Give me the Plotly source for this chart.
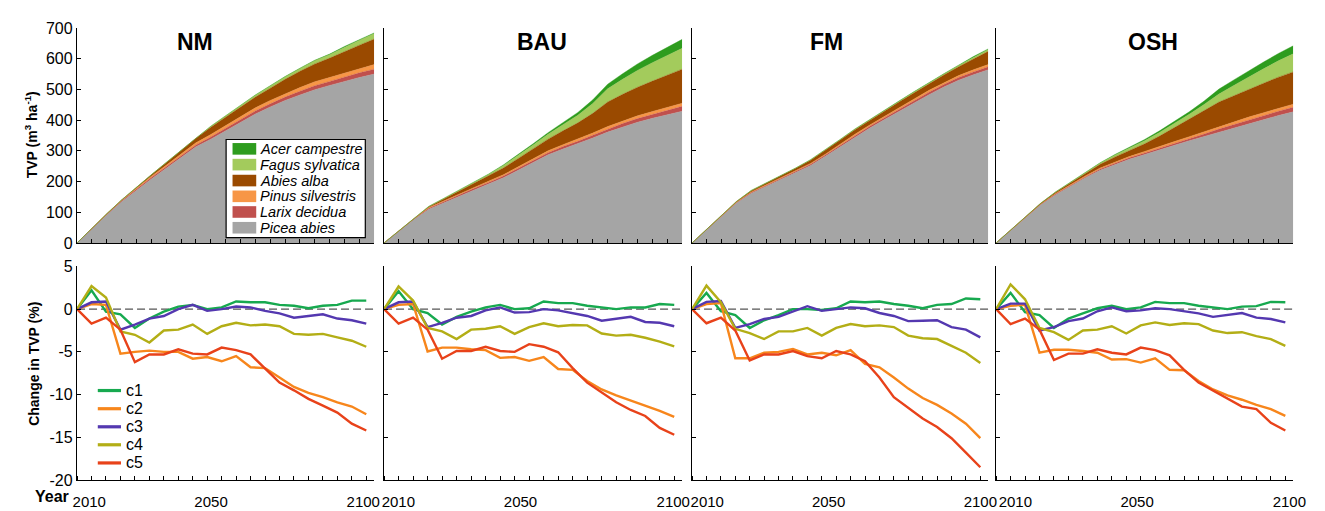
import plotly.graph_objects as go

# ---------------------------------------------------------------- data
sim_years = [2005.0, 2009.75, 2014.5, 2019.25, 2024.0, 2028.75, 2033.5, 2038.25,
             2043.0, 2047.75, 2052.5, 2057.25, 2062.0, 2066.75, 2071.5, 2076.25,
             2081.0, 2085.75, 2090.5, 2095.25, 2100.0]
scenarios = ["NM", "BAU", "FM", "OSH"]
species = ["Picea abies", "Larix decidua", "Pinus silvestris",
           "Abies alba", "Fagus sylvatica", "Acer campestre"]
climates = ["c1", "c2", "c3", "c4", "c5"]
year_ticks = [2010, 2050, 2100]
year_labels = ["2010", "2050", "2100"]

# standing volume per species, m3/ha
nm_picea = [0, 46, 91, 134, 172, 208, 243, 278, 313, 338, 366, 394, 420, 443, 464, 482, 499, 513, 527, 539, 550]
nm_larix = [0, 1, 2, 3, 4, 5, 5, 6, 6, 7, 8, 9, 10, 10, 11, 12, 13, 13, 14, 15, 16]
nm_pinus = [0, 1, 1, 2, 3, 4, 5, 6, 7, 8, 8, 9, 10, 11, 11, 12, 13, 13, 14, 14, 15]
nm_abies = [0, 0, 1, 1, 3, 5, 8, 11, 15, 24, 28, 32, 35, 40, 47, 53, 58, 63, 69, 76, 83]
nm_fagus = [0, 0, 0, 0, 0, 0, 1, 1, 2, 3, 4, 5, 6, 7, 8, 9, 11, 12, 14, 16, 18]
nm_acer = [0, 0, 0, 0, 0, 0, 0, 0, 0, 0, 0, 0, 1, 1, 1, 1, 1, 1, 2, 2, 2]

bau_picea = [0, 38, 76, 110, 131, 152, 172, 192, 212, 237, 262, 287, 306, 323, 342, 361, 378, 393, 406, 418, 429]
bau_larix = [0, 1, 2, 3, 4, 4, 5, 5, 6, 6, 7, 7, 8, 8, 9, 10, 11, 12, 13, 14, 16]
bau_pinus = [0, 1, 1, 2, 2, 3, 3, 4, 4, 5, 5, 6, 6, 7, 7, 8, 8, 9, 9, 10, 10]
bau_abies = [0, 0, 1, 3, 6, 9, 13, 17, 22, 27, 32, 38, 45, 53, 64, 80, 87, 93, 99, 105, 111]
bau_fagus = [0, 0, 0, 1, 2, 3, 4, 5, 8, 10, 13, 16, 20, 25, 32, 43, 49, 55, 60, 64, 68]
bau_acer = [0, 0, 0, 0, 0, 0, 1, 1, 2, 3, 4, 5, 7, 9, 12, 15, 18, 21, 24, 26, 29]

fm_picea = [0, 44, 89, 130, 162, 184, 206, 229, 252, 282, 313, 345, 374, 402, 429, 457, 483, 508, 530, 548, 564]
fm_larix = [0, 1, 1, 2, 2, 3, 3, 3, 4, 4, 5, 5, 6, 6, 7, 7, 8, 8, 9, 9, 10]
fm_pinus = [0, 0, 1, 1, 2, 2, 2, 3, 3, 3, 4, 4, 4, 5, 5, 5, 6, 6, 6, 7, 7]
fm_abies = [0, 0, 1, 2, 4, 5, 7, 8, 10, 12, 13, 15, 16, 18, 19, 20, 22, 25, 29, 36, 43]
fm_fagus = [0, 0, 0, 0, 1, 1, 1, 1, 2, 2, 2, 2, 2, 2, 2, 3, 3, 3, 4, 5, 6]
fm_acer = [0, 0, 0, 0, 0, 0, 0, 0, 0, 0, 0, 0, 0, 1, 1, 1, 1, 1, 1, 2, 2]

osh_picea = [0, 41, 83, 124, 157, 185, 212, 237, 256, 273, 288, 302, 318, 333, 347, 361, 375, 389, 402, 415, 427]
osh_larix = [0, 1, 1, 2, 2, 3, 3, 4, 4, 5, 5, 6, 6, 7, 8, 10, 11, 12, 13, 14, 15]
osh_pinus = [0, 0, 1, 1, 2, 2, 3, 3, 4, 4, 5, 5, 6, 6, 7, 8, 8, 9, 9, 10, 10]
osh_abies = [0, 0, 1, 2, 4, 6, 9, 12, 16, 20, 25, 35, 45, 57, 69, 80, 86, 91, 96, 101, 105]
osh_fagus = [0, 0, 0, 0, 1, 2, 3, 4, 6, 8, 10, 12, 14, 16, 20, 26, 33, 40, 47, 53, 59]
osh_acer = [0, 0, 0, 0, 0, 0, 0, 1, 2, 3, 4, 5, 6, 8, 11, 16, 18, 20, 22, 24, 26]

# change in total volume under each climate scenario, %
nm_c1 = [0, 2.2, -0.3, -0.6, -2.2, -1.1, -0.3, 0.3, 0.5, 0.0, 0.2, 0.9, 0.8, 0.8, 0.5, 0.4, 0.1, 0.4, 0.5, 1.0, 1.0]
nm_c2 = [0, 0.6, 0.5, -5.2, -5.0, -4.85, -5.0, -5.0, -5.8, -5.6, -6.1, -5.5, -6.8, -6.9, -8.0, -9.1, -9.8, -10.3, -10.9, -11.4, -12.3]
nm_c3 = [0, 0.8, 0.9, -2.4, -1.8, -1.1, -0.8, 0.0, 0.5, -0.2, 0.0, 0.3, 0.2, -0.2, -0.5, -1.0, -0.8, -0.6, -1.1, -1.3, -1.7]
nm_c4 = [0, 2.7, 1.35, -2.6, -3.0, -3.9, -2.5, -2.4, -1.8, -2.9, -2.0, -1.6, -1.9, -1.8, -2.0, -2.9, -3.0, -2.9, -3.3, -3.7, -4.4]
nm_c5 = [0, -1.7, -1.0, -2.4, -6.2, -5.3, -5.3, -4.7, -5.2, -5.3, -4.5, -4.8, -5.3, -6.9, -8.6, -9.5, -10.5, -11.3, -12.1, -13.4, -14.2]

bau_c1 = [0, 2.1, 0.0, -0.45, -1.8, -0.9, -0.3, 0.2, 0.5, 0.0, 0.1, 0.9, 0.7, 0.7, 0.4, 0.2, 0.0, 0.2, 0.2, 0.6, 0.5]
bau_c2 = [0, 0.5, 0.6, -4.95, -4.5, -4.5, -4.7, -4.8, -5.7, -5.6, -6.05, -5.6, -7.0, -7.1, -8.4, -9.4, -10.1, -10.7, -11.35, -11.9, -12.6]
bau_c3 = [0, 0.8, 0.9, -2.1, -1.6, -1.0, -0.8, -0.15, 0.2, -0.4, -0.35, 0.0, -0.15, -0.5, -0.8, -1.35, -1.1, -0.9, -1.5, -1.6, -2.0]
bau_c4 = [0, 2.65, 1.0, -2.2, -2.6, -3.5, -2.4, -2.3, -2.0, -2.9, -2.1, -1.65, -2.0, -1.85, -1.9, -2.85, -3.1, -3.0, -3.35, -3.8, -4.35]
bau_c5 = [0, -1.7, -1.0, -2.4, -5.8, -4.9, -4.9, -4.4, -4.9, -5.0, -4.1, -4.4, -5.05, -6.9, -8.6, -9.7, -10.9, -11.8, -12.5, -13.9, -14.7]

fm_c1 = [0, 1.9, -0.25, -0.7, -2.2, -1.3, -0.7, 0.0, 0.0, -0.1, 0.1, 0.9, 0.8, 0.9, 0.6, 0.4, 0.1, 0.5, 0.6, 1.25, 1.15]
fm_c2 = [0, 0.6, 0.7, -5.75, -5.75, -5.1, -5.0, -4.65, -5.3, -5.1, -5.4, -4.8, -6.4, -6.8, -8.0, -9.3, -10.4, -11.2, -12.2, -13.4, -15.1]
fm_c3 = [0, 0.85, 0.95, -2.2, -1.75, -1.15, -0.9, -0.25, 0.35, -0.2, 0.0, 0.2, 0.1, -0.45, -0.8, -1.4, -1.35, -1.3, -2.1, -2.4, -3.3]
fm_c4 = [0, 2.75, 0.8, -2.3, -2.8, -3.5, -2.6, -2.6, -2.2, -3.1, -2.2, -1.75, -2.0, -1.9, -2.1, -3.1, -3.4, -3.5, -4.3, -5.1, -6.3]
fm_c5 = [0, -1.65, -1.0, -2.5, -6.0, -5.3, -5.3, -4.9, -5.5, -5.75, -4.9, -5.3, -6.1, -8.0, -10.3, -11.6, -12.8, -13.8, -15.1, -16.8, -18.5]

osh_c1 = [0, 1.9, -0.35, -0.7, -2.2, -1.1, -0.5, 0.1, 0.4, 0.0, 0.2, 0.85, 0.7, 0.7, 0.4, 0.2, 0.0, 0.3, 0.35, 0.85, 0.8]
osh_c2 = [0, 0.4, 0.5, -5.1, -4.75, -4.75, -4.9, -5.1, -5.9, -5.85, -6.25, -5.75, -7.1, -7.15, -8.4, -9.4, -10.1, -10.6, -11.2, -11.7, -12.5]
osh_c3 = [0, 0.65, 0.65, -2.5, -2.1, -1.4, -1.1, -0.25, 0.2, -0.25, -0.15, 0.1, 0.0, -0.25, -0.5, -0.9, -0.65, -0.45, -1.0, -1.15, -1.55]
osh_c4 = [0, 2.9, 1.15, -2.2, -2.7, -3.6, -2.5, -2.4, -2.0, -2.85, -1.9, -1.55, -1.85, -1.65, -1.75, -2.5, -2.8, -2.7, -3.15, -3.5, -4.3]
osh_c5 = [0, -1.75, -1.1, -2.4, -5.95, -5.2, -5.2, -4.7, -5.1, -5.3, -4.5, -4.8, -5.4, -7.1, -8.6, -9.5, -10.45, -11.4, -11.7, -13.3, -14.2]

# ---------------------------------------------------------------- styling
W, H = 1325, 511
FONT = "Arial, Liberation Sans, sans-serif"
species_colors = ["#a5a5a5", "#c0504d", "#f79646", "#9a4a00", "#a3cb5c", "#2e9c1e"]
climate_colors = ["#17a94f", "#f7861c", "#5438b0", "#b3ae16", "#e8421a"]

volumes = {
    "NM": [nm_picea, nm_larix, nm_pinus, nm_abies, nm_fagus, nm_acer],
    "BAU": [bau_picea, bau_larix, bau_pinus, bau_abies, bau_fagus, bau_acer],
    "FM": [fm_picea, fm_larix, fm_pinus, fm_abies, fm_fagus, fm_acer],
    "OSH": [osh_picea, osh_larix, osh_pinus, osh_abies, osh_fagus, osh_acer],
}
changes = {
    "NM": [nm_c1, nm_c2, nm_c3, nm_c4, nm_c5],
    "BAU": [bau_c1, bau_c2, bau_c3, bau_c4, bau_c5],
    "FM": [fm_c1, fm_c2, fm_c3, fm_c4, fm_c5],
    "OSH": [osh_c1, osh_c2, osh_c3, osh_c4, osh_c5],
}


def fx(px):
    return px / W


def fy(py):
    return 1 - py / H


panel_px = [(74, 375), (385, 687), (697, 997), (1005, 1306)]
title_px = [193, 545, 833, 1164]
label_shift = [-3, -1, 0, 4]
top_dom = [fy(243), fy(20.7)]
bot_dom = [fy(488.3), fy(267.3)]

fig = go.Figure()
layout = dict(
    width=W, height=H, margin=dict(l=0, r=0, t=0, b=0),
    paper_bgcolor="white", plot_bgcolor="white", showlegend=False,
    font=dict(family=FONT, size=16, color="black"),
)
shapes, annotations = [], []

axis_common = dict(showline=True, linecolor="black", linewidth=1.4, showgrid=False,
                   zeroline=False, ticks="inside", ticklen=4, tickcolor="black",
                   tickwidth=1, tickfont=dict(family=FONT, size=16, color="black"))

for i, sc in enumerate(scenarios):
    top_n, bot_n = i + 1, i + 5
    xa_t = "x" if top_n == 1 else f"x{top_n}"
    ya_t = "y" if top_n == 1 else f"y{top_n}"
    xa_b, ya_b = f"x{bot_n}", f"y{bot_n}"
    dom = [fx(panel_px[i][0]), fx(panel_px[i][1])]

    # stacked species volume
    for sp, col, vals in zip(species, species_colors, volumes[sc]):
        fig.add_trace(go.Scatter(
            x=sim_years, y=vals, name=sp, mode="lines", stackgroup=f"s{i}",
            line=dict(width=0.4, color=col), fillcolor=col,
            xaxis=xa_t, yaxis=ya_t))

    # change in TVP per climate scenario
    for cl, col, vals in zip(climates, climate_colors, changes[sc]):
        fig.add_trace(go.Scatter(
            x=sim_years, y=vals, name=cl, mode="lines",
            line=dict(width=2.4, color=col),
            xaxis=xa_b, yaxis=ya_b))

    layout["xaxis" if top_n == 1 else f"xaxis{top_n}"] = dict(
        axis_common, domain=dom, range=[2005, 2100], tickmode="array",
        tickvals=sim_years, showticklabels=False, anchor=ya_t)
    layout["yaxis" if top_n == 1 else f"yaxis{top_n}"] = dict(
        axis_common, domain=top_dom, range=[0, 700], tickmode="array",
        tickvals=[0, 100, 200, 300, 400, 500, 600, 700],
        showticklabels=(i == 0), anchor=xa_t)
    layout[f"xaxis{bot_n}"] = dict(
        axis_common, domain=dom, range=[2005, 2102.6], tickmode="array",
        tickvals=year_ticks, ticktext=year_labels, ticks="", ticklabelstandoff=8,
        ticklabelshift=label_shift[i],
        tickfont=dict(family=FONT, size=15, color="black"),
        minor=dict(tickmode="array", tickvals=sim_years, ticks="inside",
                   ticklen=4, tickcolor="black", tickwidth=1),
        anchor=ya_b)
    layout[f"yaxis{bot_n}"] = dict(
        axis_common, domain=bot_dom, range=[-20, 5], tickmode="array",
        tickvals=[5, 0, -5, -10, -15, -20],
        ticktext=["5", "0", "-5", "-10", "-15", "-20"],
        showticklabels=(i == 0), anchor=xa_b)

    # zero reference line
    shapes.append(dict(type="line", xref=f"{xa_b} domain", yref=ya_b,
                       x0=0, x1=1, y0=0, y1=0, layer="below",
                       line=dict(color="#555555", width=1.3, dash="8px,4px")))
    # management scenario title
    annotations.append(dict(text=f"<b>{sc}</b>", xref="paper", yref="paper",
                            x=fx(title_px[i]), y=fy(35), xanchor="center",
                            yanchor="middle", showarrow=False,
                            font=dict(family=FONT, size=23, color="black")))

# species legend (upper-left panel)
shapes.append(dict(type="rect", xref="paper", yref="paper",
                   x0=fx(225), x1=fx(366), y0=fy(237.5), y1=fy(136),
                   fillcolor="white", line=dict(color="black", width=1.2)))
row_y = [145.7, 162.0, 178.5, 194.8, 211.0, 227.3]
for k, (sp, col) in enumerate(zip(species[::-1], species_colors[::-1])):
    yc = row_y[k]
    shapes.append(dict(type="rect", xref="paper", yref="paper",
                       x0=fx(231.5), x1=fx(255.5), y0=fy(yc + 6), y1=fy(yc - 6),
                       fillcolor=col, line=dict(width=0)))
    annotations.append(dict(text=sp, xref="paper", yref="paper", x=fx(257.5),
                            y=fy(yc), xanchor="left", yanchor="middle",
                            showarrow=False,
                            font=dict(family=FONT, size=14.5, color="black",
                                      style="italic")))

# climate legend (lower-left panel)
leg_y = [395.7, 414.5, 433.2, 451.8, 470.6]
for k, (cl, col) in enumerate(zip(climates, climate_colors)):
    yc = leg_y[k]
    shapes.append(dict(type="line", xref="paper", yref="paper",
                       x0=fx(95), x1=fx(118.5), y0=fy(yc), y1=fy(yc),
                       line=dict(color=col, width=3.2)))
    annotations.append(dict(text=cl, xref="paper", yref="paper", x=fx(121.5),
                            y=fy(yc), xanchor="left", yanchor="middle",
                            showarrow=False,
                            font=dict(family=FONT, size=16, color="black")))

# axis titles
annotations.append(dict(text="<b>TVP (m<sup>3</sup> ha<sup>-1</sup>)</b>",
                        xref="paper", yref="paper", x=fx(27), y=fy(131),
                        textangle=-90, showarrow=False, xanchor="center",
                        yanchor="middle", font=dict(family=FONT, size=14)))
annotations.append(dict(text="<b>Change in TVP (%)</b>",
                        xref="paper", yref="paper", x=fx(30.5), y=fy(368),
                        textangle=-90, showarrow=False, xanchor="center",
                        yanchor="middle", font=dict(family=FONT, size=14)))
annotations.append(dict(text="<b>Year</b>", xref="paper", yref="paper",
                        x=fx(49), y=fy(505), xanchor="center", yanchor="middle",
                        showarrow=False, font=dict(family=FONT, size=16)))

layout["shapes"] = shapes
layout["annotations"] = annotations
fig.update_layout(**layout)
fig.write_html("out.html")
